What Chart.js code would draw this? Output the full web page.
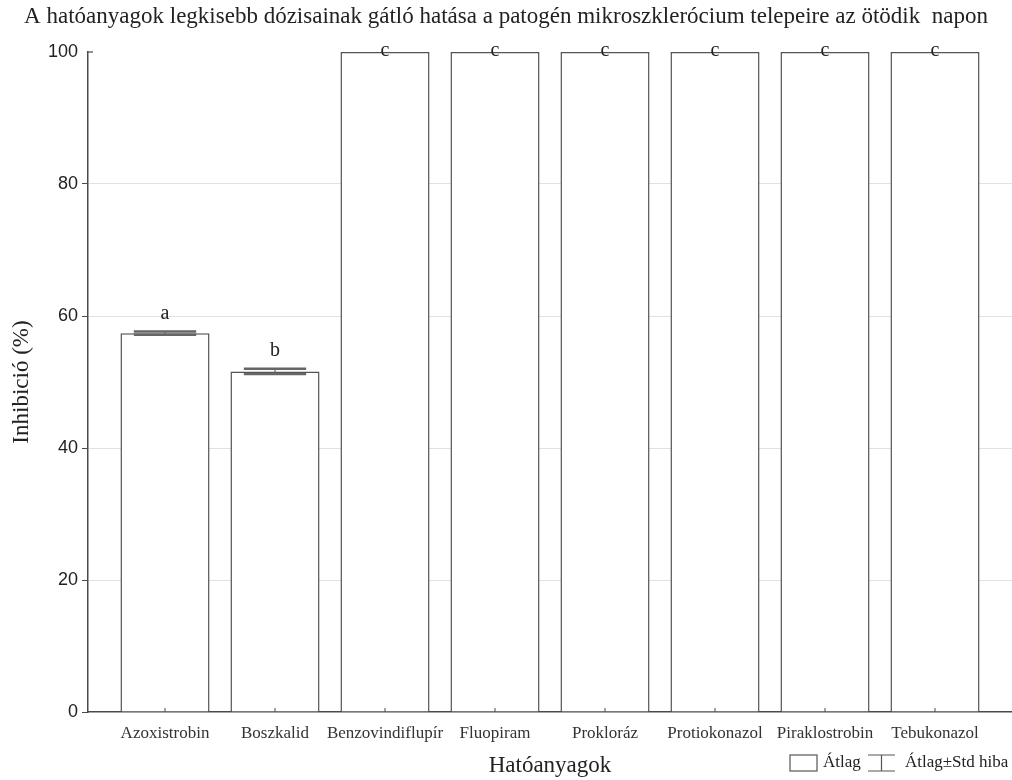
<!DOCTYPE html>
<html>
<head>
<meta charset="utf-8">
<script src="https://cdn.jsdelivr.net/npm/chart.js@4.4.0/dist/chart.umd.min.js"></script>
<style>
  body { margin: 0; background: #fff; }
  #wrap { width: 1012px; height: 780px; }
</style>
</head>
<body>
<div id="wrap"><canvas id="chart" width="1012" height="780"></canvas></div>
<script>
// adatok
const categories = ['Azoxistrobin', 'Boszkalid', 'Benzovindiflupír', 'Fluopiram',
    'Prokloráz', 'Protiokonazol', 'Piraklostrobin', 'Tebukonazol'];
const means = [57.4, 51.6, 100, 100, 100, 100, 100, 100];
const stdErr = [0.25, 0.4, 0, 0, 0, 0, 0, 0];
const letters = ['a', 'b', 'c', 'c', 'c', 'c', 'c', 'c'];
const yTicks = [0, 20, 40, 60, 80, 100];

const serif = '"Liberation Serif", "Times New Roman", serif';
const sans = '"Liberation Sans", Arial, sans-serif';
const ink = '#4a4a4a';

// hibasávok, betűk, x tengely belső jelölései, jelmagyarázat
const extrasPlugin = {
    id: 'extras',
    afterDatasetsDraw(chart) {
        const ctx = chart.ctx;
        const meta = chart.getDatasetMeta(0);
        const y = chart.scales.y;
        const x = chart.scales.x;
        const area = chart.chartArea;
        ctx.save();

        meta.data.forEach((bar, i) => {
            const half = bar.width * 0.35;
            if (stdErr[i] > 0) {
                const hi = y.getPixelForValue(means[i] + stdErr[i]);
                const lo = y.getPixelForValue(means[i] - stdErr[i]);
                ctx.strokeStyle = '#666';
                ctx.lineWidth = 2.5;
                ctx.beginPath();
                ctx.moveTo(bar.x - half, hi); ctx.lineTo(bar.x + half, hi);
                ctx.moveTo(bar.x - half, lo); ctx.lineTo(bar.x + half, lo);
                ctx.stroke();
                ctx.lineWidth = 1.2;
                ctx.beginPath();
                ctx.moveTo(bar.x, hi); ctx.lineTo(bar.x, lo);
                ctx.stroke();
            }

            // csoportbetűk
            const top = y.getPixelForValue(means[i] + stdErr[i]);
            const base = means[i] >= y.max ? top + 4 : top - 13;
            ctx.fillStyle = '#222';
            ctx.font = '20px ' + serif;
            ctx.textAlign = 'center';
            ctx.textBaseline = 'alphabetic';
            ctx.fillText(letters[i], bar.x, base);

            // kis jelölés a kategória közepén
            const px = x.getPixelForValue(i);
            ctx.strokeStyle = ink;
            ctx.lineWidth = 1;
            ctx.beginPath();
            ctx.moveTo(px, area.bottom);
            ctx.lineTo(px, area.bottom - 4);
            ctx.stroke();
        });

        // befelé mutató jel a tengely tetején
        const yTop = y.getPixelForValue(y.max);
        ctx.strokeStyle = ink;
        ctx.lineWidth = 1.2;
        ctx.beginPath();
        ctx.moveTo(area.left, yTop);
        ctx.lineTo(area.left + 5, yTop);
        ctx.stroke();

        // jelmagyarázat
        const ly = chart.height - 17;
        ctx.strokeStyle = '#555';
        ctx.lineWidth = 1.2;
        ctx.strokeRect(790, ly - 8, 27, 16);
        ctx.fillStyle = '#222';
        ctx.font = '17px ' + serif;
        ctx.textAlign = 'left';
        ctx.textBaseline = 'middle';
        ctx.fillText('Átlag', 823, ly);
        ctx.beginPath();
        ctx.moveTo(868, ly - 8); ctx.lineTo(895, ly - 8);
        ctx.moveTo(868, ly + 8); ctx.lineTo(895, ly + 8);
        ctx.moveTo(881.5, ly - 8); ctx.lineTo(881.5, ly + 8);
        ctx.stroke();
        ctx.fillText('Átlag±Std hiba', 905, ly);
        ctx.restore();
    }
};

new Chart(document.getElementById('chart'), {
    type: 'bar',
    data: {
        datasets: [{
            label: 'Átlag',
            data: means.map((v, i) => ({ x: i, y: v })),
            backgroundColor: '#ffffff',
            borderColor: '#555555',
            borderWidth: 1.5,
            borderSkipped: 'bottom',
            categoryPercentage: 1,
            barPercentage: 0.81,
        }],
    },
    options: {
        responsive: false,
        animation: false,
        layout: { padding: 0 },
        plugins: {
            legend: { display: false },
            tooltip: { enabled: false },
            title: {
                display: true,
                text: 'A hatóanyagok legkisebb dózisainak gátló hatása a patogén mikroszklerócium telepeire az ötödik  napon',
                color: '#222',
                font: { family: serif, size: 23, weight: 'normal' },
                padding: { top: 3, bottom: 21.4 },
            },
        },
        scales: {
            x: {
                type: 'linear',
                offset: false,
                min: -0.7,
                max: 7.7,
                afterBuildTicks: (scale) => {
                    scale.ticks = categories.map((c, i) => ({ value: i }));
                },
                afterFit: (scale) => { scale.height = 68; },
                grid: { display: false, drawTicks: false },
                border: { display: true, color: ink, width: 1.5 },
                ticks: {
                    autoSkip: false,
                    maxRotation: 0,
                    padding: 11,
                    color: '#333',
                    font: { family: serif, size: 17 },
                    callback: (v) => categories[v],
                },
                title: {
                    display: true,
                    text: 'Hatóanyagok',
                    color: '#222',
                    font: { family: serif, size: 23 },
                    padding: { top: 0, bottom: 0 },
                },
            },
            y: {
                min: 0,
                max: 100,
                afterBuildTicks: (scale) => {
                    scale.ticks = yTicks.map(v => ({ value: v }));
                },
                afterFit: (scale) => { scale.width = 88; },
                grid: {
                    color: (c) => (c.tick && c.tick.value > 0 && c.tick.value < 100) ? '#e2e2e2' : 'rgba(0,0,0,0)',
                    tickColor: (c) => (c.tick && c.tick.value === 100) ? 'rgba(0,0,0,0)' : ink,
                    tickLength: 6,
                    lineWidth: 1,
                },
                border: { display: true, color: ink, width: 1.5 },
                ticks: {
                    padding: 4,
                    color: '#222',
                    font: { family: sans, size: 18 },
                },
                title: {
                    display: true,
                    text: 'Inhibició (%)',
                    color: '#222',
                    font: { family: serif, size: 23 },
                    padding: { top: 8, bottom: 0 },
                },
            },
        },
    },
    plugins: [extrasPlugin],
});
</script>
</body>
</html>
